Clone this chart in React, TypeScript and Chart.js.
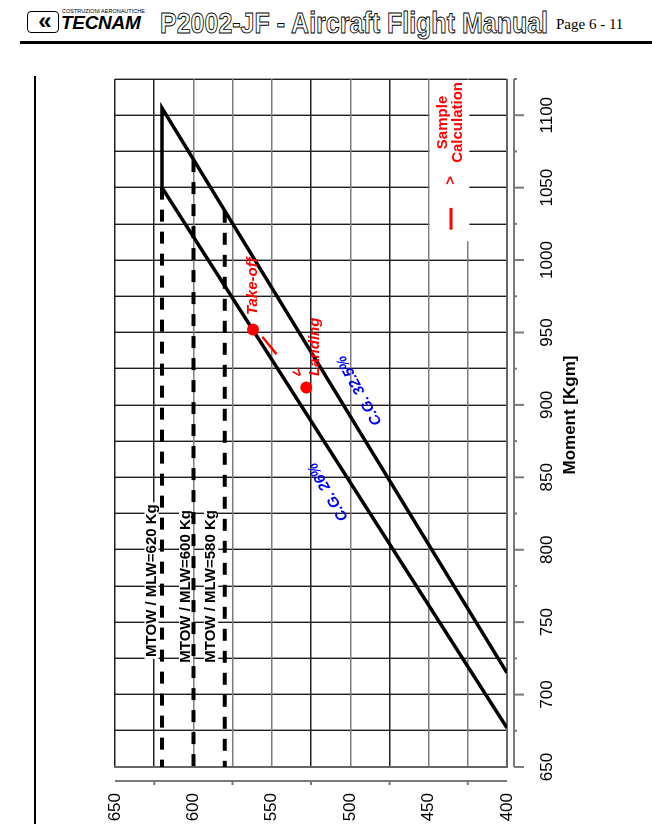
import React, { useEffect, useRef } from 'react';
import { Chart, registerables } from 'chart.js';

Chart.register(...registerables);

// ---- data (x: Moment [Kgm], y: Weight [Kg]) ----
const momentMin = 650;
const momentMax = 1125;
const weightMin = 400;
const weightMax = 650;
const momentTickLabels = [650, 700, 750, 800, 850, 900, 950, 1000, 1050, 1100];
const weightTickLabels = [650, 600, 550, 500, 450, 400];
const weightAxisMarks = [625, 575, 525, 475, 425];

// envelope: C.G. 26% line -> MTOW 620 edge -> C.G. 32.5% line
const envelopeMoment = [677, 1050, 1105, 715];
const envelopeWeight = [400, 620, 620, 400];

const mtowWeight = [620, 600, 580];
const mtowTopMoment = [1050, 1069, 1034];
const mtowLabels = ['MTOW / MLW=620 Kg', 'MTOW / MLW=600 Kg', 'MTOW / MLW=580 Kg'];
const mtowLabelMoment = [726, 722, 722];
const mtowLabelWeight = [626.7, 604.7, 588.7];

const sampleNames = ['Take-off', 'Landing'];
const sampleMoment = [952, 912];
const sampleWeight = [562, 528];
const sampleLabelMoment = [962, 920];
const sampleLabelWeight = [562, 522.5];
const arrowMoment = [947, 935, 922];
const arrowWeight = [556, 547, 534];

const cgLabels = ['C.G. 26%', 'C.G. 32.5%'];
const cgLabelMoment = [840, 910];
const cgLabelWeight = [514, 494];

const legendLines = ['Sample', 'Calculation'];
const axisTitle = 'Moment [Kgm]';
const axisTitleMoment = 893;

const FONT = '"Liberation Sans", Arial, sans-serif';

const overlayPlugin = {
  id: 'overlay',
  beforeDatasetsDraw(chart: any) {
    const { ctx } = chart;
    const xs = chart.scales.x;
    const ys = chart.scales.y;
    const X = (m: number) => xs.getPixelForValue(m);
    const Y = (w: number) => ys.getPixelForValue(w);
    ctx.save();
    ctx.fillStyle = '#ffffff';
    // legend white box
    ctx.fillRect(X(1013), Y(449.3), X(momentMax) - X(1013) - 1, Y(424) - Y(449.3));
    // MTOW label boxes
    ctx.font = 'bold 15px ' + FONT;
    mtowLabels.forEach((t, i) => {
      const w = ctx.measureText(t).width;
      ctx.fillRect(X(mtowLabelMoment[i]) - 2, Y(mtowLabelWeight[i]) - 7, w + 4, 14);
    });
    ctx.restore();
  },
  afterDatasetsDraw(chart: any) {
    const { ctx } = chart;
    const xs = chart.scales.x;
    const ys = chart.scales.y;
    const X = (m: number) => xs.getPixelForValue(m);
    const Y = (w: number) => ys.getPixelForValue(w);
    ctx.save();
    // MTOW labels
    ctx.font = 'bold 15px ' + FONT;
    ctx.fillStyle = '#000000';
    ctx.textBaseline = 'middle';
    ctx.textAlign = 'left';
    mtowLabels.forEach((t, i) => ctx.fillText(t, X(mtowLabelMoment[i]), Y(mtowLabelWeight[i])));

    // C.G. labels along lines
    ctx.font = 'italic bold 15px ' + FONT;
    ctx.fillStyle = '#0000ff';
    ctx.textAlign = 'center';
    const ang = [
      Math.atan2(Y(envelopeWeight[1]) - Y(envelopeWeight[0]), X(envelopeMoment[1]) - X(envelopeMoment[0])),
      Math.atan2(Y(envelopeWeight[2]) - Y(envelopeWeight[3]), X(envelopeMoment[2]) - X(envelopeMoment[3])),
    ];
    cgLabels.forEach((t, i) => {
      ctx.save();
      ctx.translate(X(cgLabelMoment[i]), Y(cgLabelWeight[i]));
      ctx.rotate(ang[i] + 0.04);
      ctx.fillText(t, 0, 0);
      ctx.restore();
    });

    // sample calculation labels
    ctx.fillStyle = '#ff0000';
    ctx.strokeStyle = '#ff0000';
    ctx.textAlign = 'left';
    sampleNames.forEach((t, i) => ctx.fillText(t, X(sampleLabelMoment[i]), Y(sampleLabelWeight[i])));

    // arrow take-off -> landing
    ctx.lineWidth = 2.5;
    ctx.beginPath();
    ctx.moveTo(X(arrowMoment[0]), Y(arrowWeight[0]));
    ctx.lineTo(X(arrowMoment[1]), Y(arrowWeight[1]));
    ctx.stroke();
    const aAng = Math.atan2(Y(arrowWeight[1]) - Y(arrowWeight[0]), X(arrowMoment[1]) - X(arrowMoment[0]));
    ctx.save();
    ctx.translate(X(arrowMoment[2]), Y(arrowWeight[2]));
    ctx.rotate(aAng);
    ctx.font = 'bold 15px ' + FONT;
    ctx.textAlign = 'center';
    ctx.fillText('>', 0, 0);
    ctx.restore();

    // legend
    ctx.lineWidth = 3;
    ctx.beginPath();
    ctx.moveTo(X(1021), Y(435.7));
    ctx.lineTo(X(1036), Y(435.7));
    ctx.stroke();
    ctx.font = 'bold 15px ' + FONT;
    ctx.textAlign = 'center';
    ctx.fillText('>', X(1055), Y(435.7));
    ctx.fillText(legendLines[0], X(1095), Y(440.8));
    ctx.fillText(legendLines[1], X(1095), Y(431.3));
    ctx.restore();
  },
  afterDraw(chart: any) {
    const { ctx, chartArea } = chart;
    const xs = chart.scales.x;
    const ys = chart.scales.y;
    ctx.save();
    ctx.strokeStyle = '#7a7a7a';
    ctx.lineWidth = 2;
    // offset moment axis
    const ay = chartArea.bottom + 7;
    ctx.beginPath();
    ctx.moveTo(xs.getPixelForValue(momentMin), ay);
    ctx.lineTo(xs.getPixelForValue(momentMax), ay);
    for (let m = momentMin; m <= momentMax; m += 25) {
      const px = xs.getPixelForValue(m);
      ctx.moveTo(px, ay);
      ctx.lineTo(px, ay + (momentTickLabels.includes(m) ? 10 : 3));
    }
    ctx.stroke();
    // offset weight axis
    const ax = chartArea.left - 14;
    ctx.beginPath();
    ctx.moveTo(ax, ys.getPixelForValue(weightMax));
    ctx.lineTo(ax, ys.getPixelForValue(weightMin));
    weightAxisMarks.forEach((w) => {
      const py = ys.getPixelForValue(w);
      ctx.moveTo(ax, py);
      ctx.lineTo(ax - 4, py);
    });
    ctx.stroke();
    // axis title
    ctx.fillStyle = '#000';
    ctx.font = 'bold 17px ' + FONT;
    ctx.textAlign = 'center';
    ctx.textBaseline = 'middle';
    ctx.fillText(axisTitle, xs.getPixelForValue(axisTitleMoment), chartArea.bottom + 63);
    ctx.restore();
  },
};

function ChartBox() {
  const ref = useRef<HTMLCanvasElement | null>(null);
  useEffect(() => {
    if (!ref.current) return;
    Chart.defaults.font.family = FONT;
    const chart = new Chart(ref.current, {
      type: 'scatter',
      data: {
        datasets: [
          {
            label: 'Sample',
            data: sampleMoment.map((m, i) => ({ x: m, y: sampleWeight[i] })),
            backgroundColor: '#ff0000',
            borderWidth: 0,
            pointRadius: 6,
            showLine: false,
          },
          {
            label: 'Envelope',
            data: envelopeMoment.map((m, i) => ({ x: m, y: envelopeWeight[i] })),
            borderColor: '#000000',
            borderWidth: 3.5,
            pointRadius: 0,
            showLine: true,
            borderJoinStyle: 'miter',
          },
          ...mtowWeight.map((w, i) => ({
            label: mtowLabels[i],
            data: [
              { x: mtowTopMoment[i], y: w },
              { x: momentMin, y: w },
            ],
            borderColor: '#000000',
            borderWidth: 4,
            borderDash: [12, 10],
            pointRadius: 0,
            showLine: true,
          })),
        ],
      },
      options: {
        responsive: false,
        maintainAspectRatio: false,
        devicePixelRatio: 1,
        animation: false,
        layout: { padding: { top: 75, right: 19, left: 0, bottom: 0 } },
        plugins: { legend: { display: false }, tooltip: { enabled: false } },
        scales: {
          x: {
            type: 'linear',
            position: 'bottom',
            min: momentMin,
            max: momentMax,
            afterFit: (s: any) => {
              s.height = 113;
              s.paddingLeft = 0;
              s.paddingRight = 0;
            },
            ticks: {
              stepSize: 25,
              autoSkip: false,
              maxRotation: 0,
              minRotation: 0,
              padding: 30,
              color: '#000',
              font: { size: 17 },
              callback: (v: any) => (momentTickLabels.includes(Number(v)) ? String(v) : ''),
            },
            grid: { color: '#1e1e1e', lineWidth: 1.4, drawTicks: false },
            border: { display: true, color: '#666', width: 2 },
          },
          y: {
            type: 'linear',
            position: 'left',
            min: weightMin,
            max: weightMax,
            afterFit: (s: any) => {
              s.width = 57;
              s.paddingTop = 0;
              s.paddingBottom = 0;
            },
            ticks: {
              stepSize: 25,
              autoSkip: false,
              padding: 26,
              color: '#000',
              font: { size: 17 },
              callback: (v: any) => (weightTickLabels.includes(Number(v)) ? String(v) : ''),
            },
            grid: {
              drawTicks: false,
              lineWidth: 1.4,
              color: (c: any) => ([650, 625, 525, 475].includes(c.tick?.value) ? '#222' : '#7d7d7d'),
            },
            border: { display: true, color: '#666', width: 2 },
          },
        },
      },
      plugins: [overlayPlugin],
    } as any);
    return () => chart.destroy();
  }, []);
  return <canvas ref={ref} width={764} height={580} style={{ display: 'block', width: 764, height: 580 }} />;
}

export default function App() {
  return (
    <div style={{ position: 'fixed', left: 0, top: 0, width: 652, height: 824, overflow: 'hidden', background: '#fff' }}>
      {/* header */}
      <div style={{ position: 'absolute', left: 27, top: 11, width: 32, height: 22, border: '1.5px solid #000', borderRadius: 4, boxSizing: 'border-box', fontFamily: FONT, fontWeight: 'bold', fontSize: 24, lineHeight: '18px', textAlign: 'center', letterSpacing: -4 }}>
        «
      </div>
      <div style={{ position: 'absolute', left: 62, top: 8, fontFamily: FONT, fontSize: 5.5, lineHeight: '6px', whiteSpace: 'nowrap' }}>
        COSTRUZIONI AERONAUTICHE
      </div>
      <div style={{ position: 'absolute', left: 61, top: 12, fontFamily: FONT, fontSize: 19, fontWeight: 'bold', fontStyle: 'italic', lineHeight: '22px', whiteSpace: 'nowrap', letterSpacing: -0.3 }}>
        TECNAM
      </div>
      <div style={{ position: 'absolute', left: 160, top: 6, fontFamily: FONT, fontSize: 25, fontWeight: 'bold', lineHeight: '28px', whiteSpace: 'nowrap', color: '#fff', WebkitTextStroke: '0.8px #000', transformOrigin: '0 0', transform: 'scaleY(1.18)' } as any}>
        P2002-JF - Aircraft Flight Manual
      </div>
      <div style={{ position: 'absolute', left: 556, top: 15, fontFamily: '"Liberation Serif", "Times New Roman", serif', fontSize: 15, lineHeight: '18px', whiteSpace: 'nowrap' }}>
        Page 6 - 11
      </div>
      <div style={{ position: 'absolute', left: 20, top: 41, width: 632, height: 3, background: '#000' }} />
      <div style={{ position: 'absolute', left: 34, top: 76, width: 2, height: 748, background: '#000' }} />
      {/* rotated chart */}
      <div
        style={{
          position: 'absolute',
          left: 40,
          top: 60,
          width: 764,
          height: 580,
          transformOrigin: '0 0',
          transform: 'translate(0px, 764px) rotate(-90deg)',
        }}
      >
        <ChartBox />
      </div>
    </div>
  );
}
